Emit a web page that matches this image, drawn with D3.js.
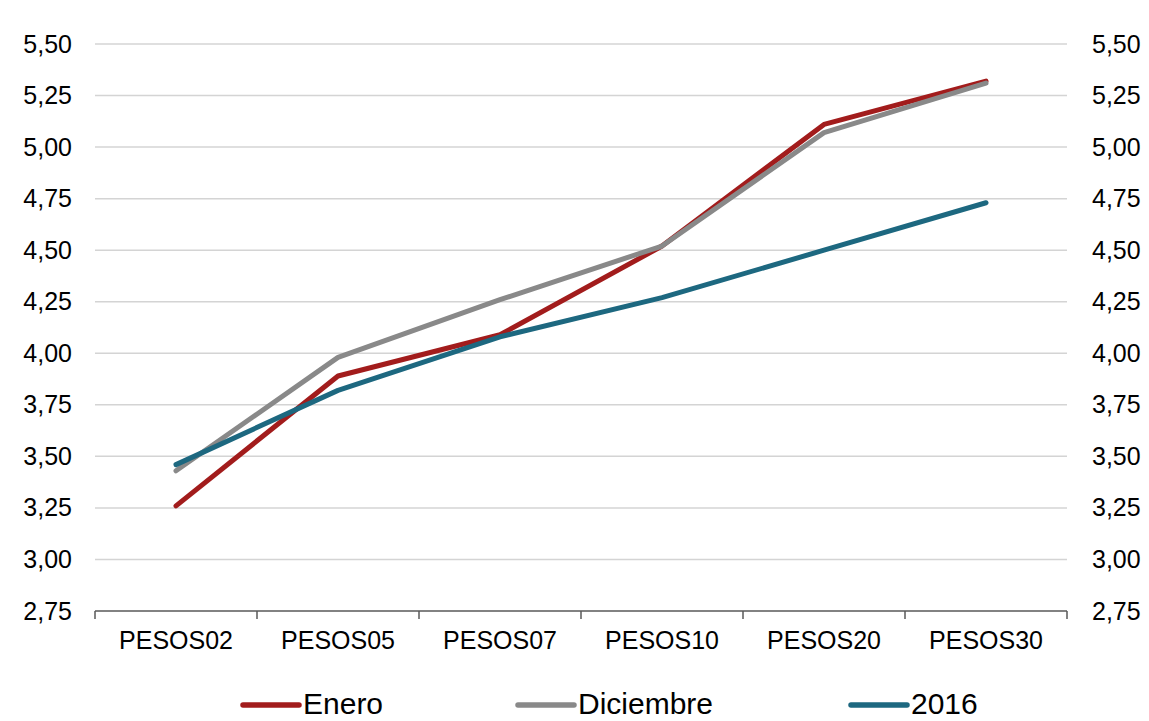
<!DOCTYPE html>
<html>
<head>
<meta charset="utf-8">
<script src="https://cdn.jsdelivr.net/npm/d3@7"></script>
<style>
  body { margin: 0; background: #fff; }
  svg { display: block; font-family: "Liberation Sans", Arial, sans-serif; }
</style>
</head>
<body>
<div id="chart"></div>
<script>
// data
const categories = ["PESOS02", "PESOS05", "PESOS07", "PESOS10", "PESOS20", "PESOS30"];
const enero = [3.26, 3.89, 4.09, 4.52, 5.11, 5.32];
const diciembre = [3.43, 3.98, 4.26, 4.52, 5.07, 5.31];
const y2016 = [3.46, 3.82, 4.08, 4.27, 4.50, 4.73];
const yTicks = [2.75, 3.00, 3.25, 3.50, 3.75, 4.00, 4.25, 4.50, 4.75, 5.00, 5.25, 5.50];

const series = [
    { name: "Enero", values: enero, color: "#A21C1C" },
    { name: "Diciembre", values: diciembre, color: "#898989" },
    { name: "2016", values: y2016, color: "#1D6880" }
];

const W = 1149, H = 721;
const margin = { top: 44, right: 82, bottom: 110, left: 95 };
const width = W - margin.left - margin.right,
    height = H - margin.top - margin.bottom;

const svg = d3.select("#chart")
    .append("svg")
    .attr("width", W)
    .attr("height", H);

const g = svg.append("g")
    .attr("transform", `translate(${margin.left},${margin.top})`);

const x = d3.scaleBand()
    .domain(categories)
    .range([0, width]);

const y = d3.scaleLinear()
    .domain([2.75, 5.5])
    .range([height, 0]);

const fmt = d => d3.format(".2f")(d).replace(".", ",");

// gridlines
g.append("g")
    .selectAll("line")
    .data(yTicks.slice(1))
    .join("line")
    .attr("x1", 0)
    .attr("x2", width)
    .attr("y1", d => y(d))
    .attr("y2", d => y(d))
    .attr("stroke", "#d4d4d4")
    .attr("stroke-width", 1.5);

// left axis labels
const yLeft = g.append("g")
    .call(d3.axisLeft(y).tickValues(yTicks).tickFormat(fmt).tickSize(0).tickPadding(23));
yLeft.select(".domain").remove();
yLeft.selectAll("text")
    .style("font-size", "25px")
    .style("font-family", "Liberation Sans, Arial, sans-serif")
    .attr("fill", "#000");

// right axis labels
const yRight = g.append("g")
    .attr("transform", `translate(${width},0)`)
    .call(d3.axisRight(y).tickValues(yTicks).tickFormat(fmt).tickSize(0).tickPadding(25));
yRight.select(".domain").remove();
yRight.selectAll("text")
    .style("font-size", "25px")
    .style("font-family", "Liberation Sans, Arial, sans-serif")
    .attr("fill", "#000");

// x axis
const xAxis = g.append("g")
    .attr("transform", `translate(0,${height})`)
    .call(d3.axisBottom(x).tickSize(0).tickPadding(20));
xAxis.select(".domain").remove();
xAxis.selectAll("text")
    .style("font-size", "25px")
    .style("font-family", "Liberation Sans, Arial, sans-serif")
    .attr("fill", "#000");

xAxis.append("line")
    .attr("x1", 0)
    .attr("x2", width)
    .attr("stroke", "#595959")
    .attr("stroke-width", 1.5);

xAxis.selectAll(".band-tick")
    .data(categories.concat([null]))
    .join("line")
    .attr("class", "band-tick")
    .attr("x1", (d, i) => i * x.bandwidth())
    .attr("x2", (d, i) => i * x.bandwidth())
    .attr("y1", 0)
    .attr("y2", 8)
    .attr("stroke", "#595959")
    .attr("stroke-width", 1.5);

// lines
const line = d3.line()
    .x((d, i) => x(categories[i]) + x.bandwidth() / 2)
    .y(d => y(d));

g.append("g")
    .selectAll("path")
    .data(series)
    .join("path")
    .attr("fill", "none")
    .attr("stroke", d => d.color)
    .attr("stroke-width", 5)
    .attr("stroke-linejoin", "round")
    .attr("stroke-linecap", "round")
    .attr("d", d => line(d.values));

// legend
const legendX = [243, 518, 851];
const legend = svg.append("g")
    .attr("transform", `translate(0,705)`);

series.forEach((s, i) => {
    legend.append("line")
        .attr("x1", legendX[i])
        .attr("x2", legendX[i] + 56)
        .attr("y1", 0)
        .attr("y2", 0)
        .attr("stroke", s.color)
        .attr("stroke-width", 5.5)
        .attr("stroke-linecap", "round");

    legend.append("text")
        .attr("x", legendX[i] + 60)
        .attr("y", 9)
        .style("font-size", "30px")
        .attr("fill", "#000")
        .text(s.name);
});
</script>
</body>
</html>
